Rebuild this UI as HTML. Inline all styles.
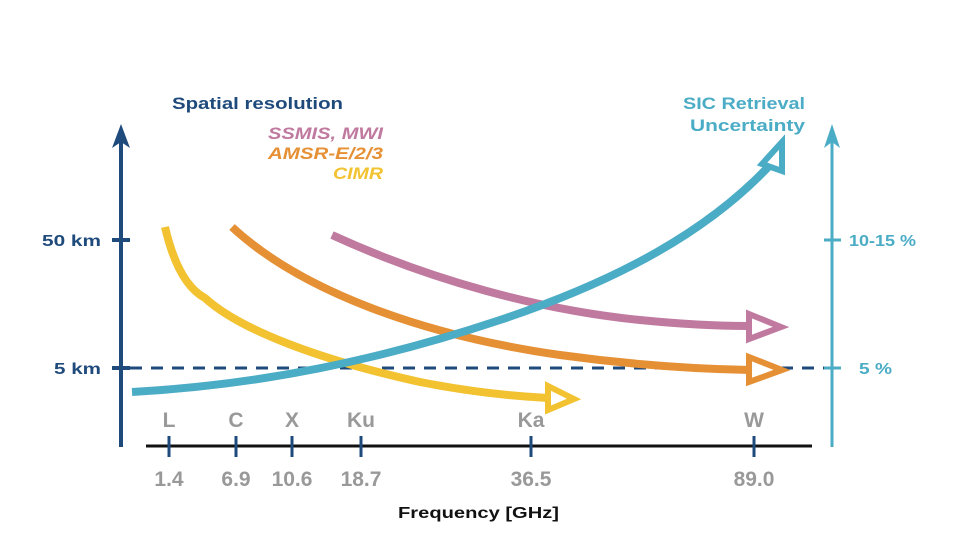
<!DOCTYPE html><html><head><style>body{margin:0;background:#fff}svg{display:block}text{font-family:"Liberation Sans",sans-serif;font-weight:bold}</style></head><body>
<svg width="960" height="540" viewBox="0 0 960 540">
<!-- axes -->
<line x1="121" y1="447" x2="121" y2="135" stroke="#1f4a7c" stroke-width="4"/>
<polygon points="121,124 112,148 121,142 130,148" fill="#1f4a7c"/>
<line x1="112" y1="240" x2="130" y2="240" stroke="#1f4a7c" stroke-width="4"/>
<line x1="112" y1="368" x2="130" y2="368" stroke="#1f4a7c" stroke-width="4"/>
<line x1="832" y1="447" x2="832" y2="135" stroke="#4bacc6" stroke-width="3"/>
<polygon points="832,124 824,148 832,142 840,148" fill="#4bacc6"/>
<line x1="824" y1="240" x2="841" y2="240" stroke="#4bacc6" stroke-width="3"/>
<line x1="824" y1="368" x2="841" y2="368" stroke="#4bacc6" stroke-width="3"/>
<line x1="130" y1="368" x2="824" y2="368" stroke="#1f4a7c" stroke-width="3" stroke-dasharray="12,9"/>
<line x1="146" y1="446" x2="812" y2="446" stroke="#111" stroke-width="3"/>
<g stroke="#1f4a7c" stroke-width="3">
<line x1="169" y1="436" x2="169" y2="457"/><line x1="236" y1="436" x2="236" y2="457"/><line x1="292" y1="436" x2="292" y2="457"/><line x1="361" y1="436" x2="361" y2="457"/><line x1="531" y1="436" x2="531" y2="457"/><line x1="754" y1="436" x2="754" y2="457"/></g>
<!-- curves -->
<g fill="none" stroke-width="8">
<path d="M165,227 C175,270 190,290 205,298 C240,330 320,360 420,382 C470,392 510,396 548,398" stroke="#f2c230"/>
<path d="M232,227 C300,290 420,335 560,355 C640,366 700,369 750,370" stroke="#e69035"/>
<path d="M332,235 C430,280 540,310 640,320 C690,325 720,326 748,326" stroke="#c0799f"/>
<path d="M132,392 C260,385 380,360 500,320 C620,280 710,230 772,163" stroke="#4bacc6"/>
</g>
<g fill="#fff" stroke-width="6" stroke-linejoin="miter">
<polygon points="548,386 574,399 548,410" stroke="#f2c230"/>
<polygon points="749,314 781,327 749,339" stroke="#c0799f"/>
<polygon points="749,357 782,370 749,382" stroke="#e69035"/>
<polygon points="782,142 782,171 762,164" stroke="#4bacc6"/>
</g>
<!-- text -->
<text x="172" y="109" font-size="17" fill="#1f4a7c" textLength="171" lengthAdjust="spacingAndGlyphs">Spatial resolution</text>
<text x="268" y="139" font-size="17" fill="#c0799f" font-style="italic" textLength="115" lengthAdjust="spacingAndGlyphs">SSMIS, MWI</text>
<text x="268" y="159" font-size="17" fill="#e69035" font-style="italic" textLength="115" lengthAdjust="spacingAndGlyphs">AMSR-E/2/3</text>
<text x="333" y="179" font-size="17" fill="#f2c230" font-style="italic" textLength="50" lengthAdjust="spacingAndGlyphs">CIMR</text>
<text x="683" y="109" font-size="17" fill="#4bacc6" textLength="122" lengthAdjust="spacingAndGlyphs">SIC Retrieval</text>
<text x="690" y="131" font-size="17" fill="#4bacc6" textLength="115" lengthAdjust="spacingAndGlyphs">Uncertainty</text>
<text x="42" y="246" font-size="16" fill="#1f4a7c" textLength="59" lengthAdjust="spacingAndGlyphs">50 km</text>
<text x="54" y="374" font-size="16" fill="#1f4a7c" textLength="47" lengthAdjust="spacingAndGlyphs">5 km</text>
<text x="849" y="246" font-size="16" fill="#4bacc6" textLength="67" lengthAdjust="spacingAndGlyphs">10-15 %</text>
<text x="859" y="374" font-size="16" fill="#4bacc6" textLength="33" lengthAdjust="spacingAndGlyphs">5 %</text>
<g font-size="21" fill="#999" text-anchor="middle">
<text x="169" y="427">L</text><text x="236" y="427">C</text><text x="292" y="427">X</text><text x="361" y="427">Ku</text><text x="531" y="427">Ka</text><text x="754" y="427">W</text>
<text x="169" y="486">1.4</text><text x="236" y="486">6.9</text><text x="292" y="486">10.6</text><text x="361" y="486">18.7</text><text x="531" y="486">36.5</text><text x="754" y="486">89.0</text>
</g>
<text x="398" y="518" font-size="16" fill="#111" textLength="161" lengthAdjust="spacingAndGlyphs">Frequency [GHz]</text>
</svg></body></html>
